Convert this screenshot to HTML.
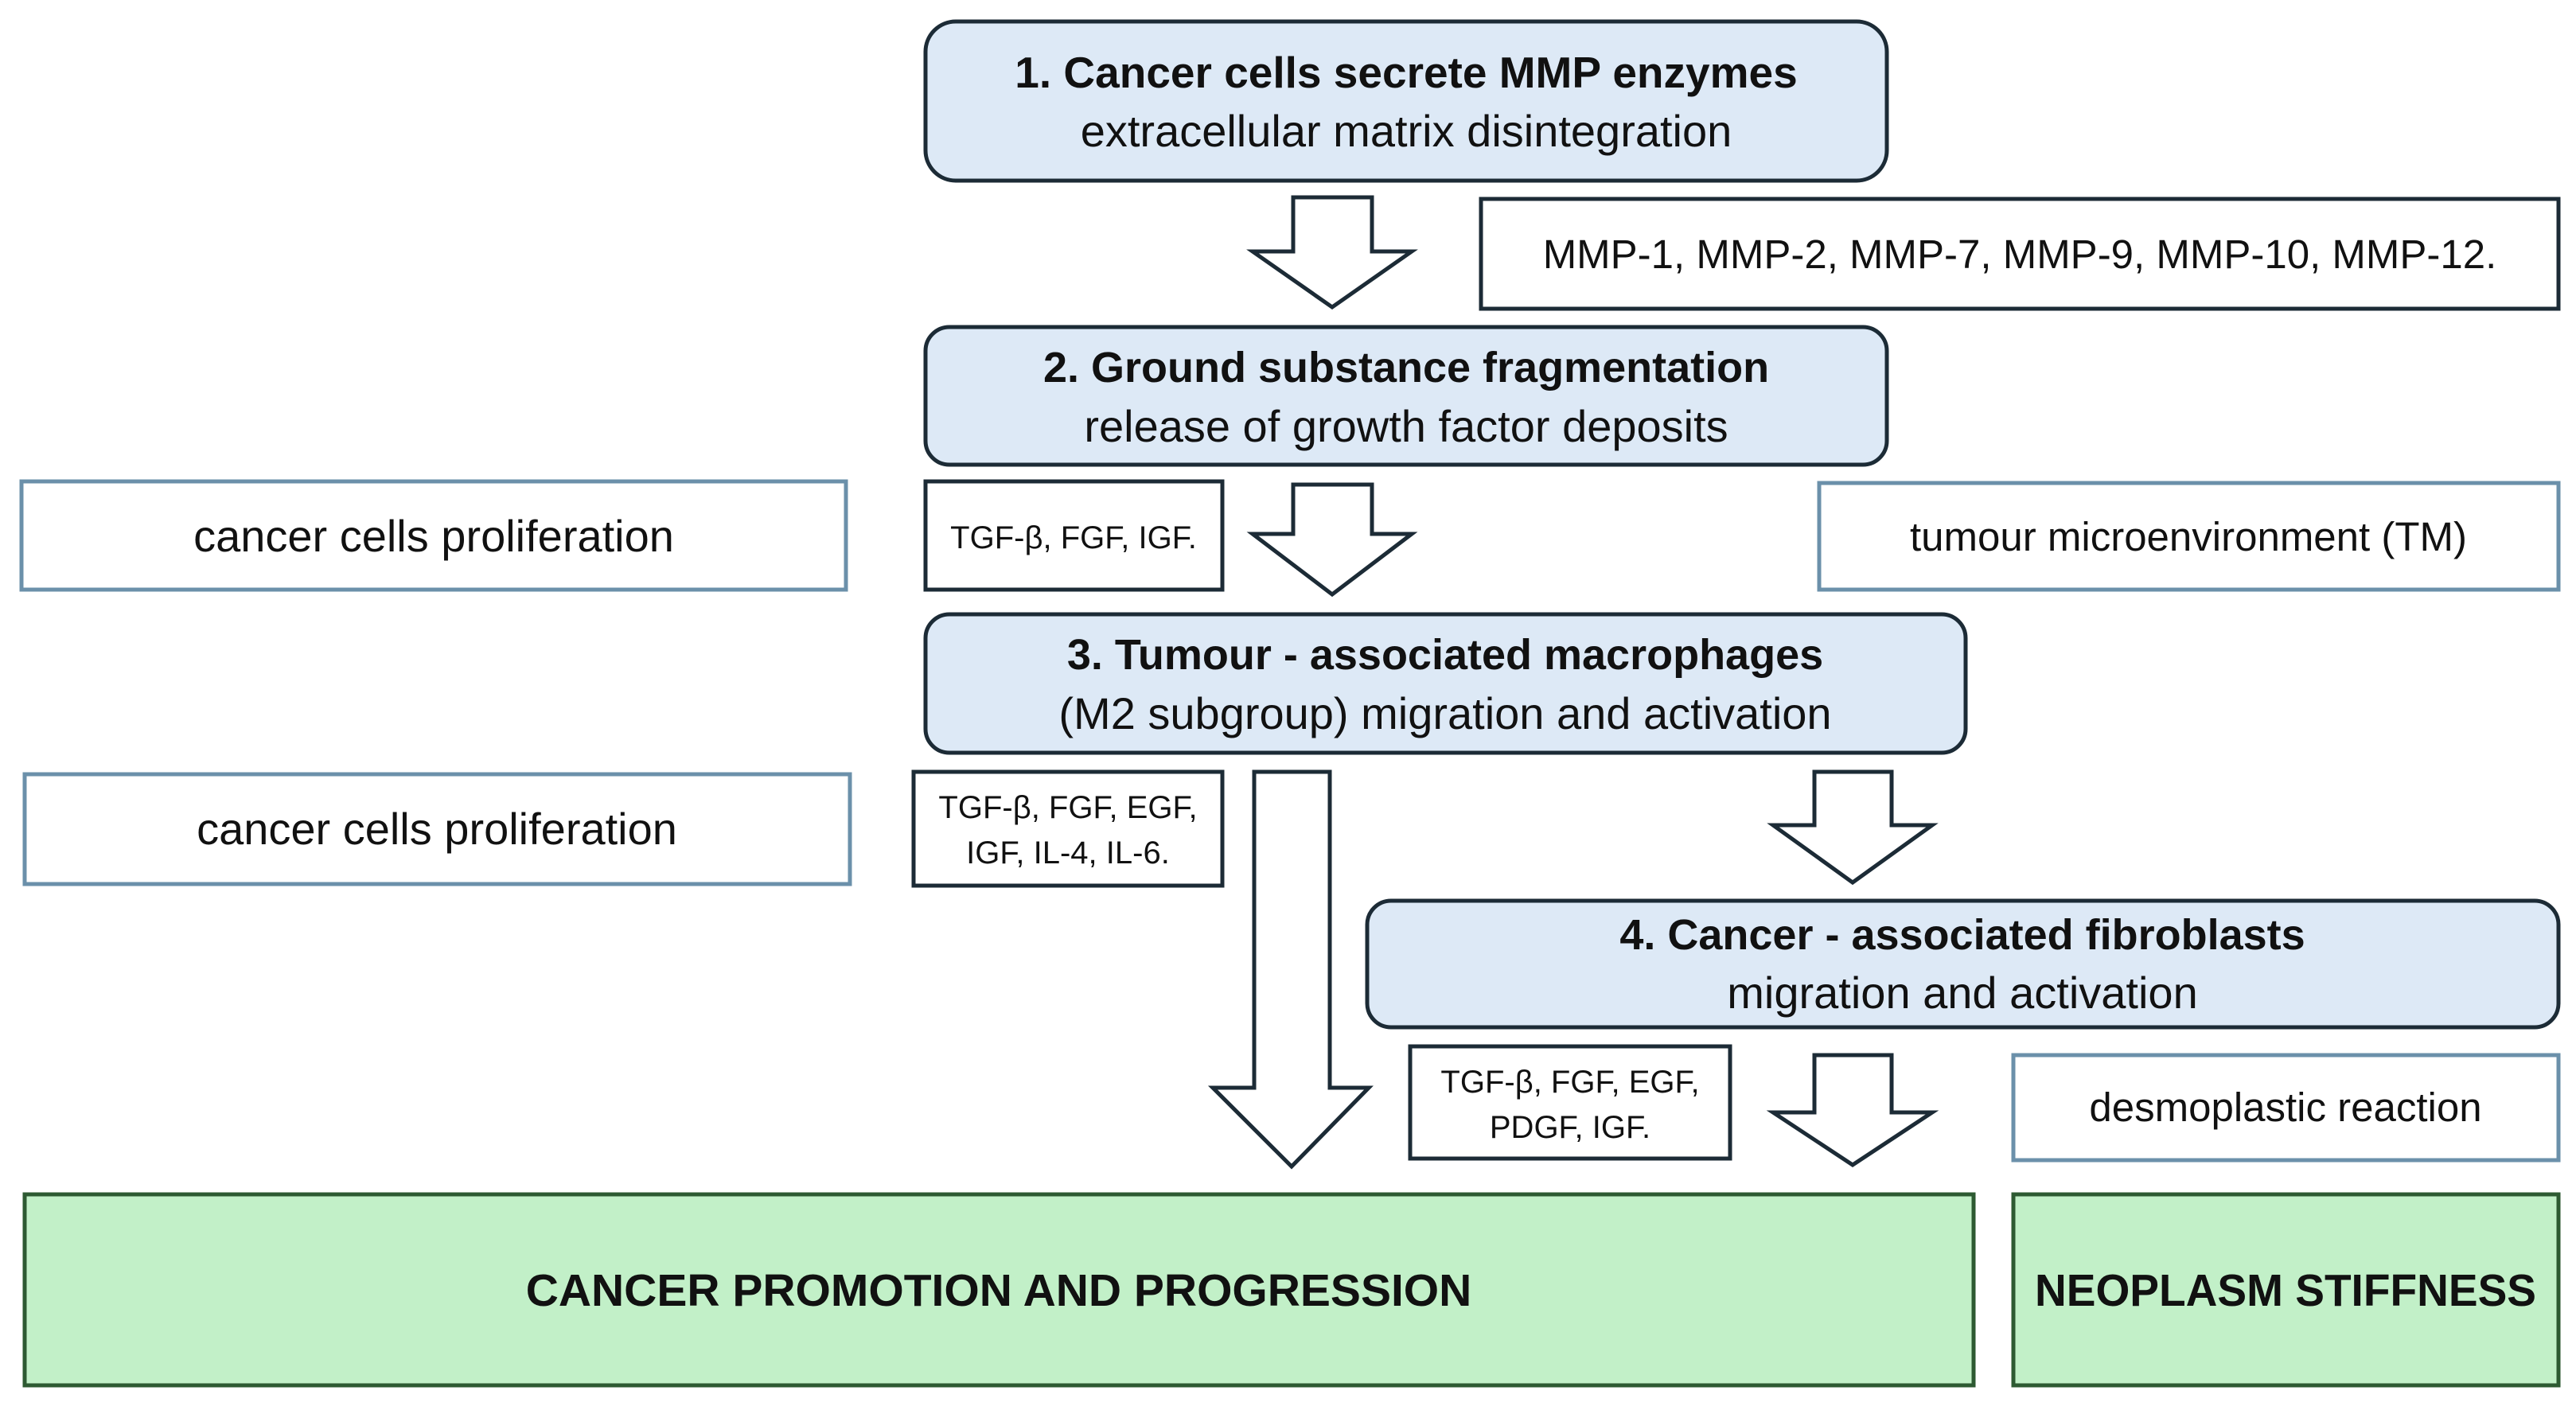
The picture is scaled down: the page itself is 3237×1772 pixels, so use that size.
<!DOCTYPE html>
<html><head><meta charset="utf-8"><style>
html,body{margin:0;padding:0;background:#fff;}
svg{display:block;}
text{font-family:"Liberation Sans",sans-serif;fill:#111;}
</style></head><body>
<svg width="3237" height="1772" viewBox="0 0 3237 1772" xmlns="http://www.w3.org/2000/svg">
<g stroke-width="5">
<rect x="1163" y="27" width="1208" height="200" rx="38" fill="#dde9f6" stroke="#1c2b36"/>
<rect x="1163" y="411" width="1208" height="173" rx="30" fill="#dde9f6" stroke="#1c2b36"/>
<rect x="1163" y="772" width="1307" height="174" rx="30" fill="#dde9f6" stroke="#1c2b36"/>
<rect x="1718" y="1132" width="1497" height="159" rx="30" fill="#dde9f6" stroke="#1c2b36"/>
<rect x="1861" y="250" width="1354" height="138" fill="#fff" stroke="#1c2b36"/>
<rect x="1163" y="605" width="373" height="136" fill="#fff" stroke="#1c2b36"/>
<rect x="1148" y="970" width="388" height="143" fill="#fff" stroke="#1c2b36"/>
<rect x="1772" y="1315" width="402" height="141" fill="#fff" stroke="#1c2b36"/>
<rect x="27" y="605" width="1036" height="136" fill="#fff" stroke="#6b90aa"/>
<rect x="2286" y="607" width="929" height="134" fill="#fff" stroke="#6b90aa"/>
<rect x="31" y="973" width="1037" height="138" fill="#fff" stroke="#6b90aa"/>
<rect x="2530" y="1326" width="685" height="132" fill="#fff" stroke="#6b90aa"/>
<rect x="31" y="1501" width="2449" height="240" fill="#c2f0c8" stroke="#2d5a32"/>
<rect x="2530" y="1501" width="685" height="240" fill="#c2f0c8" stroke="#2d5a32"/>
<g fill="#fff" stroke="#1c2b36" stroke-linejoin="miter">
<polygon points="1625,248 1724,248 1724,316 1774,316 1674,386 1574,316 1625,316"/>
<polygon points="1625,609 1724,609 1724,671 1774,671 1674,747 1574,671 1625,671"/>
<polygon points="1576,970 1671,970 1671,1367 1720,1367 1623,1466 1524,1367 1576,1367"/>
<polygon points="2280,970 2377,970 2377,1037 2428,1037 2328,1109 2228,1037 2280,1037"/>
<polygon points="2280,1326 2377,1326 2377,1398 2428,1398 2328,1464 2228,1398 2280,1398"/>
</g>
</g>
<g text-anchor="middle">
<text x="1767" y="110" font-size="55" font-weight="bold">1.   Cancer cells secrete MMP enzymes</text>
<text x="1767" y="184" font-size="56">extracellular matrix disintegration</text>
<text x="2538" y="337" font-size="51">MMP-1, MMP-2, MMP-7, MMP-9, MMP-10, MMP-12.</text>
<text x="1767" y="480" font-size="54" font-weight="bold">2. Ground substance fragmentation</text>
<text x="1767" y="555" font-size="56">release of growth factor deposits</text>
<text x="545" y="693" font-size="56">cancer cells proliferation</text>
<text x="1349" y="689" font-size="40">TGF-β, FGF, IGF.</text>
<text x="2750" y="692" font-size="51">tumour microenvironment (TM)</text>
<text x="1816" y="841" font-size="54" font-weight="bold">3. Tumour  - associated macrophages</text>
<text x="1816" y="916" font-size="56">(M2 subgroup) migration and activation</text>
<text x="549" y="1061" font-size="56">cancer cells proliferation</text>
<text x="1342" y="1028" font-size="40">TGF-β, FGF, EGF,</text>
<text x="1342" y="1085" font-size="40">IGF, IL-4, IL-6.</text>
<text x="2466" y="1193" font-size="54" font-weight="bold">4. Cancer - associated fibroblasts</text>
<text x="2466" y="1267" font-size="56">migration and activation</text>
<text x="1973" y="1373" font-size="40">TGF-β, FGF, EGF,</text>
<text x="1973" y="1430" font-size="40">PDGF, IGF.</text>
<text x="2872" y="1409" font-size="51">desmoplastic reaction</text>
<text x="1255" y="1641" font-size="57" font-weight="bold">CANCER PROMOTION AND PROGRESSION</text>
<text x="2872" y="1641" font-size="57" font-weight="bold" textLength="630" lengthAdjust="spacingAndGlyphs">NEOPLASM STIFFNESS</text>
</g>
</svg>
</body></html>
